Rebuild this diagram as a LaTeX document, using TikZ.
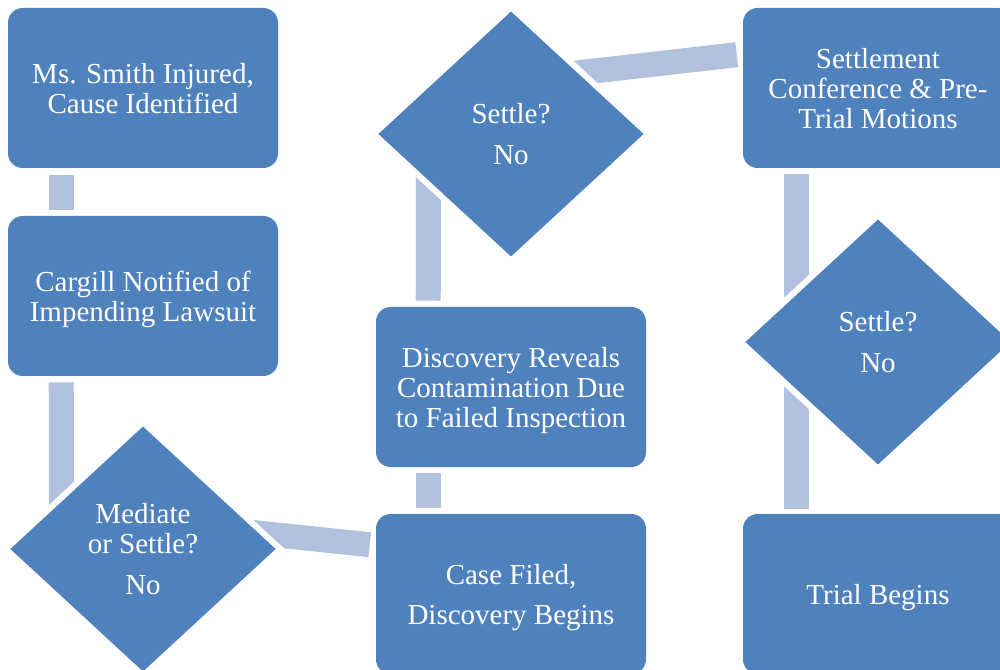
\documentclass[tikz,border=0pt]{standalone}
\usepackage{fontspec}
\setmainfont{Liberation Serif}
\usetikzlibrary{shapes.geometric,calc}
\definecolor{stepblue}{HTML}{4F81BD}
\definecolor{bandblue}{HTML}{B2C2DE}
% struts that fix the height of the first and the depth of the last text line
\newcommand\boxtop{\rule{0pt}{20.5pt}}
\newcommand\boxbot{\rule[-5pt]{0pt}{5pt}}
\tikzset{
  stepbox/.style={rectangle, rounded corners=11pt, fill=stepblue, draw=none,
    minimum width=202.5pt, minimum height=120pt, inner sep=0pt,
    align=center, text=white, font=\fontsize{21.75}{22.5}\selectfont},
  question/.style={diamond, fill=stepblue, draw=white, line width=4.5pt,
    minimum width=207.75pt, minimum height=192pt, inner sep=0pt,
    align=center, text=white, font=\fontsize{21.75}{22.5}\selectfont},
  band/.style={draw=bandblue, line width=18.75pt, line cap=butt},
}
\begin{document}
\begin{tikzpicture}[x=0.75pt,y=-0.75pt]
\useasboundingbox (0,0) rectangle (1000,670);
\clip (0,0) rectangle (1000,670);

% process steps
\node[stepbox] (injured)   at (143,88)  {\boxtop Ms. Smith Injured,\\Cause Identified\boxbot};
\node[stepbox] (notified)  at (143,296) {\boxtop Cargill Notified of\\Impending Lawsuit\boxbot};
\node[stepbox] (filed)     at (511,594) {\boxtop Case Filed,\\[8pt]Discovery Begins\boxbot};
\node[stepbox] (discovery) at (511,387) {\boxtop Discovery Reveals\\Contamination Due\\to Failed Inspection\boxbot};
\node[stepbox] (conference) at (878,88) {\boxtop Settlement\\Conference \& Pre-\\Trial Motions\boxbot};
\node[stepbox] (trial)     at (878,594) {\boxtop Trial Begins\boxbot};

% connector end points
\coordinate (c1a) at ($(injured.south west)+(53.5,7)$);
\coordinate (c1b) at ($(notified.north west)+(53.5,-6)$);
\coordinate (c2a) at ($(notified.south west)+(53.5,6)$);
\coordinate (c2b) at (61.5,549);
\coordinate (c3a) at (200,527);
\coordinate (c3b) at ($(filed.north west)+(-6,31)$);
\coordinate (c4a) at ($(filed.north west)+(52.5,-6)$);
\coordinate (c4b) at ($(discovery.south west)+(52.5,6)$);
\coordinate (c5a) at ($(discovery.north west)+(52.5,-6)$);
\coordinate (c5b) at (428.5,150);
\coordinate (c6a) at (550,76);
\coordinate (c6b) at ($(conference.north west)+(-6,47)$);
\coordinate (c7a) at ($(conference.south west)+(53.5,6)$);
\coordinate (c7b) at ($(trial.north west)+(53.5,-5)$);

% connector bands
\draw[band] (c1a) -- (c1b);
\draw[band] (c2a) -- (c2b);
\draw[band] (c3a) -- (c3b);
\draw[band] (c4a) -- (c4b);
\draw[band] (c5a) -- (c5b);
\draw[band] (c6a) -- (c6b);
\draw[band] (c7a) -- (c7b);

% decisions
\node[question] (mediate) at (143,549) {Mediate\\or Settle?\\[8pt]No};
\node[question] (settle1) at (511,134) {Settle?\\[8pt]No};
\node[question] (settle2) at (878,342) {Settle?\\[8pt]No};
\end{tikzpicture}
\end{document}
